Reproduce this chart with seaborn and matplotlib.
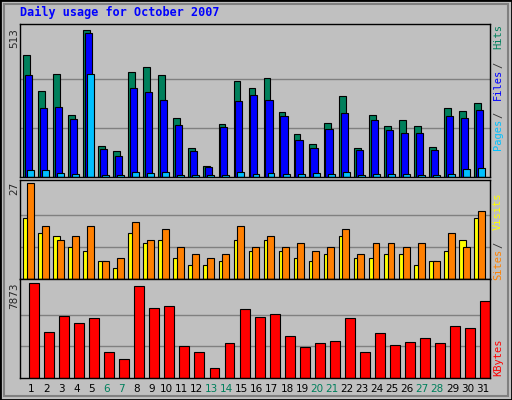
import matplotlib
matplotlib.use("Agg")
import matplotlib.pyplot as plt
import seaborn as sns
import numpy as np
import pandas as pd
from matplotlib.patches import Rectangle

days = [str(d) for d in range(1, 32)]
weekend = ['6', '7', '13', '14', '20', '21', '27', '28']
hits = [427, 300, 359, 216, 513, 107, 90, 366, 384, 356, 205, 100, 37, 184, 335, 310,
        345, 226, 149, 114, 188, 282, 100, 216, 177, 198, 177, 104, 240, 230, 258]
files = [356, 240, 244, 202, 502, 97, 72, 310, 296, 268, 181, 90, 34, 174, 265, 286,
         268, 212, 128, 100, 167, 223, 93, 198, 163, 153, 153, 93, 212, 205, 233]
pages = [23, 23, 13, 9, 359, 6, 6, 16, 13, 16, 6, 6, 6, 6, 16, 9,
         13, 9, 9, 13, 9, 16, 6, 9, 9, 9, 6, 6, 9, 27, 30]
visits = [27, 15, 11, 12, 15, 5, 6, 16, 11, 14, 9, 7, 6, 7, 15, 9,
          12, 9, 10, 8, 9, 14, 7, 10, 10, 9, 10, 5, 13, 9, 19]
sites = [17, 13, 12, 9, 8, 5, 3, 13, 10, 11, 6, 4, 4, 5, 11, 8,
         11, 8, 6, 5, 7, 12, 6, 6, 7, 7, 4, 5, 8, 11, 17]
kbytes = [7873, 3807, 5105, 4585, 4931, 2163, 1557, 7613, 5797, 5970, 2682, 2163, 865, 2855, 5710, 5018,
          5278, 3461, 2596, 2855, 3028, 4931, 2163, 3720, 2769, 2942, 3288, 2855, 4326, 4153, 6402]

sns.set_style("white")
plt.rcParams['font.family'] = ['DejaVu Sans Mono', 'DejaVu Sans']

W, H = 512, 400
fig = plt.figure(figsize=(W / 100, H / 100), dpi=100, facecolor='#c0c0c0')

# bevelled frame
fig.patches.append(Rectangle((0, 0), 1, 1, transform=fig.transFigure, fill=False,
                             edgecolor='black', linewidth=2))
fig.patches.append(Rectangle((4 / W, 4 / H), 504 / W, 392 / H, transform=fig.transFigure,
                             fill=False, edgecolor='#808080', linewidth=1.5))


def panel(y0, y1):
    ax = fig.add_axes([20 / W, 1 - y1 / H, 470 / W, (y1 - y0) / H])
    ax.set_facecolor('#c0c0c0')
    for s in ax.spines.values():
        s.set_color('black')
        s.set_linewidth(1)
    ax.set_xlim(-0.2, 31.05)
    ax.set_xticks([])
    ax.set_yticks([])
    return ax


x = np.arange(31)
ec = dict(edgecolor='black', linewidth=0.8, align='edge')

# top: hits/files/pages
ax1 = panel(24, 177)
ax1.set_ylim(0, 513 * 1.04)
for g in (513 / 3, 513 * 2 / 3):
    ax1.axhline(g, color='#808080', linewidth=1, zorder=0)
ax1.bar(x, hits, width=0.45, color='#00805c', **ec)
ax1.bar(x + 0.11, files, width=0.48, color='#0000ff', **ec)
ax1.bar(x + 0.26, pages, width=0.46, color='#00c0ff', **ec)

# middle: sites/visits
ax2 = panel(180, 279)
ax2.set_ylim(0, 27 * 1.03)
for g in (9, 18):
    ax2.axhline(g, color='#808080', linewidth=1, zorder=0)
ax2.bar(x, sites, width=0.45, color='#ffff00', **ec)
ax2.bar(x + 0.24, visits, width=0.46, color='#ff8000', **ec)

# bottom: kbytes
ax3 = panel(279, 378)
ax3.set_ylim(0, 7873 * 1.04)
for g in (7873 / 3, 7873 * 2 / 3):
    ax3.axhline(g, color='#808080', linewidth=1, zorder=0)
df = pd.DataFrame({'pos': x + 0.4, 'kbytes': kbytes})
ax3.bar(df['pos'], df['kbytes'], width=0.66, color='#ff0000', edgecolor='black',
        linewidth=0.8, align='edge')

# day labels
for i, d in enumerate(days):
    fig.text((20 + (i + 0.75) * 470 / 31.25) / W, 1 - 389 / H, d, ha='center', va='center',
             fontsize=7.5, family='DejaVu Sans',
             color='#00805c' if d in weekend else 'black')

fig.text(20 / W, 1 - 12 / H, 'Daily usage for October 2007', color='#0000ff',
         fontsize=8.5, fontweight='bold', va='center', ha='left')

for txt, y in (('513', 38), ('27', 188), ('7873', 296)):
    fig.text(14 / W, 1 - y / H, txt, rotation=90, ha='center', va='center', fontsize=7.5,
             family='DejaVu Sans')


def side(parts, y_bottom):
    y = y_bottom
    for t, c in parts:
        fig.text(498 / W, 1 - y / H, t.strip(), rotation=90, ha='center', va='bottom',
                 fontsize=7.5, color=c)
        y -= len(t) * 6.3
    return y


side([('Pages', '#00c0ff'), (' / ', '#333333'), ('Files', '#0000ff'),
      (' / ', '#333333'), ('Hits', '#00805c')], 150)
side([('Sites', '#ff8000'), (' / ', '#333333'), ('Visits', '#ffff00')], 280)
side([('KBytes', '#ff0000')], 376)

fig.savefig('out.png', dpi=100, facecolor=fig.get_facecolor())
